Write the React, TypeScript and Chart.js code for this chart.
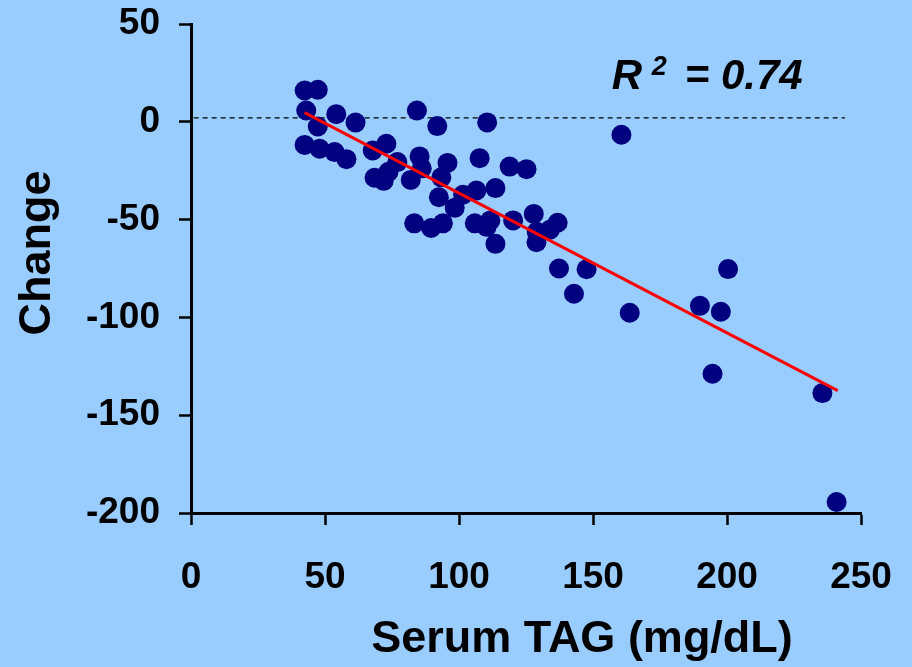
import { useEffect, useRef } from 'react';
import { Chart, registerables } from 'chart.js';

Chart.register(...registerables);

// Serum TAG (mg/dL) for each subject
const serumTAG = [
  42.4, 47.3, 43.0, 47.3, 54.2, 61.4, 84.3, 91.9, 110.5, 42.4,
  48.0, 53.6, 58.0, 67.8, 72.9, 77.0, 68.5, 71.9, 73.7, 85.3,
  86.1, 82.0, 95.7, 93.4, 107.7, 118.9, 125.2, 113.6, 101.5, 106.5,
  92.5, 98.4, 83.3, 89.6, 94.0, 105.9, 111.7, 110.3, 113.6, 120.2,
  127.9, 129.0, 128.9, 136.8, 133.9, 137.3, 147.6, 142.9, 160.6, 163.7,
  200.4, 189.9, 197.7, 194.6, 235.6, 240.9,
];
// Change for each subject
const change = [
  16.0, 16.4, 5.8, -2.4, 3.9, -0.4, 5.8, -2.2, -0.3, -11.8,
  -13.8, -15.5, -19.1, -14.7, -11.2, -20.6, -28.6, -30.2, -25.6, -17.7,
  -23.8, -29.7, -21.0, -28.4, -18.6, -22.9, -24.2, -33.9, -37.3, -35.1,
  -38.6, -44.0, -51.9, -54.3, -51.9, -51.9, -50.4, -53.7, -62.4, -50.4,
  -47.1, -56.2, -61.6, -51.6, -55.2, -75.0, -75.4, -87.9, -6.6, -97.6,
  -75.3, -94.1, -97.1, -128.8, -138.7, -194.4,
];
// Regression line end points
const fitX = [42.4, 241.3];
const fitY = [4.7, -137.4];
// Dashed reference line
const refX = [1, 244];
const refY = [2, 2];
// Axis ticks
const xTicks = [0, 50, 100, 150, 200, 250];
const yTicks = [-200, -150, -100, -50, 0, 50];
const xTitle = 'Serum TAG (mg/dL)';
const yTitle = 'Change';
const r2Text = { base: 'R', sup: '2', rest: '= 0.74' };
const r2Anchor = { x: 157, y: 16.8 };

const BG = '#99CCFF';
const FONT = '"Liberation Sans", Arial, Helvetica, sans-serif';

const bgPlugin = {
  id: 'bgFill',
  beforeDraw(chart: any) {
    const { ctx, width, height } = chart;
    ctx.save();
    ctx.fillStyle = BG;
    ctx.fillRect(0, 0, width, height);
    ctx.restore();
  },
};

const textPlugin = {
  id: 'texts',
  afterDatasetsDraw(chart: any) {
    const { ctx, scales, chartArea } = chart;
    const px = scales.x.getPixelForValue(r2Anchor.x);
    const py = scales.y.getPixelForValue(r2Anchor.y);
    ctx.save();
    ctx.fillStyle = '#000';
    ctx.textBaseline = 'alphabetic';
    ctx.textAlign = 'left';
    ctx.font = `italic bold 42px ${FONT}`;
    ctx.fillText(r2Text.base, px, py);
    ctx.font = `italic bold 27px ${FONT}`;
    ctx.fillText(r2Text.sup, px + 40, py - 14);
    ctx.font = `italic bold 42px ${FONT}`;
    ctx.fillText(r2Text.rest, px + 73, py);

    // axis titles
    ctx.font = `bold 45px ${FONT}`;
    ctx.textAlign = 'center';
    ctx.textBaseline = 'middle';
    ctx.fillText(xTitle, chartArea.left + 391, chartArea.bottom + 127);
    ctx.translate(chartArea.left - 153, chartArea.top + 229);
    ctx.rotate(-Math.PI / 2);
    ctx.fillText(yTitle, 0, 0);
    ctx.restore();
  },
};

const noPad = (s: any) => {
  s.paddingTop = 0;
  s.paddingBottom = 0;
  s.paddingLeft = 0;
  s.paddingRight = 0;
};

export default function App() {
  const canvasRef = useRef<HTMLCanvasElement | null>(null);

  useEffect(() => {
    document.body.style.margin = '0';
    document.body.style.background = BG;
    const canvas = canvasRef.current;
    if (!canvas) return;

    const points = serumTAG.map((x, i) => ({ x, y: change[i] }));
    const fit = fitX.map((x, i) => ({ x, y: fitY[i] }));
    const ref = refX.map((x, i) => ({ x, y: refY[i] }));

    const chart = new Chart(canvas, {
      type: 'scatter',
      data: {
        datasets: [
          {
            type: 'line',
            data: fit,
            borderColor: '#FF0000',
            borderWidth: 3,
            pointRadius: 0,
            fill: false,
            order: 0,
          } as any,
          {
            data: points,
            backgroundColor: '#000080',
            borderColor: '#000080',
            borderWidth: 0,
            pointRadius: 10,
            pointHoverRadius: 10,
            order: 1,
          },
          {
            type: 'line',
            data: ref,
            borderColor: '#000000',
            borderWidth: 1.3,
            borderDash: [5, 4],
            pointRadius: 0,
            fill: false,
            order: 2,
          } as any,
        ],
      },
      options: {
        responsive: false,
        animation: false,
        events: [],
        layout: { padding: { top: 24, right: 51, left: 0, bottom: 0 } },
        plugins: {
          legend: { display: false },
          tooltip: { enabled: false },
        },
        scales: {
          x: {
            type: 'linear',
            min: 0,
            max: 250,
            afterBuildTicks: (s: any) => {
              s.ticks = xTicks.map((v) => ({ value: v }));
            },
            afterFit: (s: any) => {
              s.height = 154;
              noPad(s);
            },
            grid: {
              drawOnChartArea: false,
              drawTicks: true,
              tickLength: 12,
              tickColor: '#000',
              tickWidth: 2.5,
            },
            border: { display: true, color: '#000', width: 3 },
            ticks: {
              padding: 31,
              color: '#000',
              font: { family: FONT, size: 37, weight: 'bold' },
              maxRotation: 0,
            },
            title: { display: false },
          },
          y: {
            type: 'linear',
            min: -200,
            max: 50,
            afterBuildTicks: (s: any) => {
              s.ticks = yTicks.map((v) => ({ value: v }));
            },
            afterFit: (s: any) => {
              s.width = 191;
              noPad(s);
            },
            grid: {
              drawOnChartArea: false,
              drawTicks: true,
              tickLength: 12,
              tickColor: '#000',
              tickWidth: 2.5,
            },
            border: { display: true, color: '#000', width: 3 },
            ticks: {
              padding: 19,
              color: '#000',
              font: { family: FONT, size: 37, weight: 'bold' },
            },
            title: { display: false },
          },
        },
      },
      plugins: [bgPlugin, textPlugin],
    });

    return () => chart.destroy();
  }, []);

  return (
    <div style={{ width: 912, height: 667, background: BG }}>
      <canvas ref={canvasRef} width={912} height={667} style={{ display: 'block' }} />
    </div>
  );
}
